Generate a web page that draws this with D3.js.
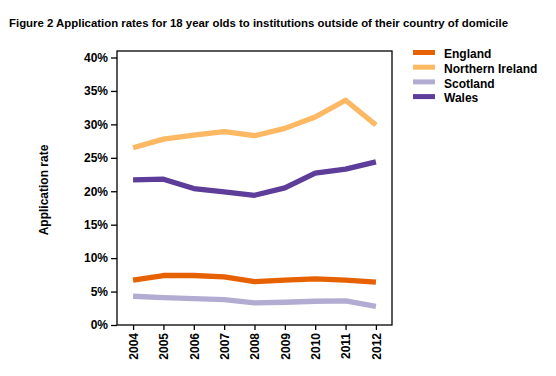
<!DOCTYPE html>
<html>
<head>
<meta charset="utf-8">
<script src="https://cdn.jsdelivr.net/npm/d3@7"></script>
<style>
  body { margin: 0; background: #fff; }
  text { font-family: "Liberation Sans", Arial, sans-serif; font-weight: bold; fill: #000; }
</style>
</head>
<body>
<svg id="chart" width="556" height="376"></svg>
<script>
const years = ["2004", "2005", "2006", "2007", "2008", "2009", "2010", "2011", "2012"];
const england = [6.7, 7.4, 7.4, 7.2, 6.5, 6.7, 6.9, 6.7, 6.4];
const northern_ireland = [26.5, 27.8, 28.4, 28.9, 28.3, 29.4, 31.1, 33.6, 29.9];
const scotland = [4.3, 4.1, 3.95, 3.8, 3.3, 3.4, 3.55, 3.6, 2.8];
const wales = [21.7, 21.8, 20.4, 19.9, 19.4, 20.5, 22.7, 23.3, 24.4];
const y_ticks = [0, 5, 10, 15, 20, 25, 30, 35, 40];

const series = [
    { name: "England", values: england, color: "#e66101" },
    { name: "Northern Ireland", values: northern_ireland, color: "#fdb863" },
    { name: "Scotland", values: scotland, color: "#b2abd2" },
    { name: "Wales", values: wales, color: "#5e3c99" }
];

const svg = d3.select("#chart");
const box = { left: 117, right: 392, top: 51, bottom: 325 };

const x = d3.scalePoint().domain(years).range([box.left, box.right]).padding(0.53);
const y = d3.scaleLinear().domain([0, 40]).range([box.bottom, 57.5]);

// title
svg.append("text")
    .attr("x", 258.5).attr("y", 26.5)
    .attr("text-anchor", "middle")
    .style("font-size", "11.4px")
    .text("Figure 2 Application rates for 18 year olds to institutions outside of their country of domicile");

// plot frame
svg.append("rect")
    .attr("x", box.left).attr("y", box.top)
    .attr("width", box.right - box.left).attr("height", box.bottom - box.top)
    .attr("fill", "none").attr("stroke", "#000").attr("stroke-width", 1.3);

// y axis
const y_axis = svg.append("g")
    .attr("transform", `translate(${box.left},0)`)
    .call(d3.axisLeft(y).tickValues(y_ticks).tickFormat(d => d + "%").tickSize(6).tickPadding(3));
y_axis.select(".domain").remove();
y_axis.selectAll("line").attr("stroke", "#000").attr("stroke-width", 1.3);
y_axis.selectAll("text").style("font-size", "12px").style("font-family", null);

// x axis
const x_axis = svg.append("g")
    .attr("transform", `translate(0,${box.bottom})`)
    .call(d3.axisBottom(x).tickSize(5).tickPadding(0));
x_axis.select(".domain").remove();
x_axis.selectAll("line").attr("stroke", "#000").attr("stroke-width", 1.3);
x_axis.selectAll("text")
    .style("font-size", "12px").style("font-family", null)
    .attr("transform", "rotate(-90)")
    .attr("text-anchor", "end")
    .attr("x", -8).attr("y", 0).attr("dy", "0.36em");

// y axis title
svg.append("text")
    .attr("transform", "translate(48,190) rotate(-90)")
    .attr("text-anchor", "middle")
    .style("font-size", "12px")
    .text("Application rate");

// lines
const line = d3.line()
    .x((d, i) => x(years[i]))
    .y(d => y(d));

svg.append("g").selectAll("path")
    .data(series)
    .join("path")
    .attr("d", d => line(d.values))
    .attr("fill", "none")
    .attr("stroke", d => d.color)
    .attr("stroke-width", 5.3)
    .attr("stroke-linejoin", "round");

// legend
const legend = svg.append("g").selectAll("g")
    .data(series)
    .join("g")
    .attr("transform", (d, i) => `translate(413,${54 + i * 14.7})`);
legend.append("line")
    .attr("x1", 0).attr("x2", 22).attr("y1", -1.5).attr("y2", -1.5)
    .attr("stroke", d => d.color).attr("stroke-width", 5);
legend.append("text")
    .attr("x", 31).attr("dy", "0.36em")
    .style("font-size", "12px")
    .text(d => d.name);
</script>
</body>
</html>
